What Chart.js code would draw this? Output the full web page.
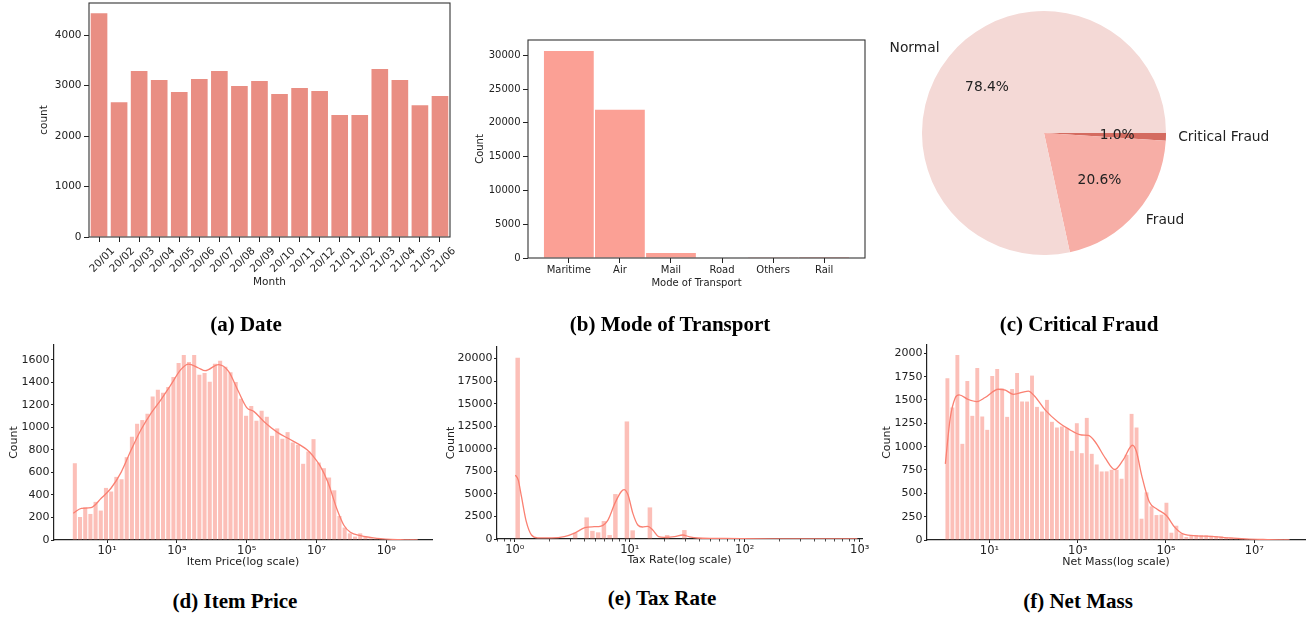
<!DOCTYPE html>
<html>
<head>
<meta charset="utf-8">
<script src="https://cdn.jsdelivr.net/npm/chart.js@4.4.0/dist/chart.umd.min.js"></script>
<style>
  body { margin: 0; background: #fff; }
  #page { position: relative; width: 1313px; height: 617px; overflow: hidden; background: #fff; }
  canvas { position: absolute; }
  .cap { position: absolute; width: 400px; text-align: center; font: bold 21px "Liberation Serif", serif; line-height: 24px; color: #000; }
</style>
</head>
<body>
<div id="page">
  <canvas id="date"></canvas>
  <canvas id="mode"></canvas>
  <canvas id="fraud"></canvas>
  <canvas id="price"></canvas>
  <canvas id="tax"></canvas>
  <canvas id="mass"></canvas>
  <div class="cap" style="left:46px;top:312px">(a) Date</div>
  <div class="cap" style="left:470px;top:312px">(b) Mode of Transport</div>
  <div class="cap" style="left:879px;top:312px">(c) Critical Fraud</div>
  <div class="cap" style="left:35px;top:589px">(d) Item Price</div>
  <div class="cap" style="left:462px;top:586px">(e) Tax Rate</div>
  <div class="cap" style="left:878px;top:589px">(f) Net Mass</div>
</div>
<script>
const ink = '#222';
const salmon = '#fa8072';
const histFill = 'rgba(250,128,114,0.5)';

// (a) Date
const dateLabels = ['20/01', '20/02', '20/03', '20/04', '20/05', '20/06', '20/07', '20/08', '20/09',
  '20/10', '20/11', '20/12', '21/01', '21/02', '21/03', '21/04', '21/05', '21/06'];
const dateCounts = [4430, 2670, 3285, 3110, 2870, 3130, 3285, 2990, 3090, 2830, 2950, 2890, 2415, 2415, 3325, 3110, 2610, 2790];
const dateTicks = [0, 1000, 2000, 3000, 4000];

// (b) Mode of Transport
const modeLabels = ['Maritime', 'Air', 'Mail', 'Road', 'Others', 'Rail'];
const modeCounts = [30640, 21950, 740, 60, 20, 8];
const modeTicks = [0, 5000, 10000, 15000, 20000, 25000, 30000];

// (c) Critical Fraud
const fraudLabels = ['Normal', 'Fraud', 'Critical Fraud'];
const fraudShares = [78.4, 20.6, 1.0];
const fraudColors = ['#f4d9d6', '#f7aea6', '#d46b60'];

// (d) Item Price - histogram bins are equal steps in log10
const priceBinStart = 0;
const priceBinStep = 0.1487;
const priceCounts = [681, 204, 290, 231, 338, 261, 462, 430, 560, 539,
  735, 916, 1031, 1064, 1120, 1274, 1333, 1307, 1357, 1446,
  1570, 1642, 1579, 1642, 1467, 1481, 1404, 1564, 1591, 1538,
  1488, 1401, 1253, 1102, 1188, 1058, 1147, 1093, 924, 990,
  898, 957, 865, 845, 676, 785, 895, 687, 637, 554,
  441, 213, 110, 59, 30, 59, 27, 15, 10, 7,
  5, 4, 3, 2, 2, 1];
const priceKdeLog = [0.03, 0.26, 0.54, 0.83, 1.11, 1.4, 1.69, 1.97, 2.26, 2.54, 2.83, 3.11, 3.33, 3.62, 3.81,
  4.19, 4.48, 4.76, 5.0, 5.21, 5.49, 5.88, 6.26, 6.73, 6.9, 7.1, 7.33, 7.59, 7.78, 7.97, 8.26, 8.73, 9.4, 9.9];
const priceKde = [237, 281, 287, 370, 459, 600, 800, 978, 1126, 1244, 1378, 1511, 1561, 1526, 1502,
  1556, 1496, 1319, 1175, 1139, 1052, 955, 889, 800, 745, 660, 510, 270, 133, 68, 38, 15, 3, 0];
const priceTicks = [1e1, 1e3, 1e5, 1e7, 1e9];
const priceTickLabels = ['10¹', '10³', '10⁵', '10⁷', '10⁹'];
const priceCountTicks = [0, 200, 400, 600, 800, 1000, 1200, 1400, 1600];

// (e) Tax Rate - only non-empty bins (centres in log10, bin width 0.05)
const taxBinLog = [0.025, 0.525, 0.625, 0.675, 0.725, 0.775, 0.825, 0.875, 0.975, 1.025, 1.175, 1.325, 1.475];
const taxCounts = [20100, 700, 2390, 900, 740, 1990, 440, 4980, 13030, 960, 3500, 440, 990];
const taxKdeLog = [0.005, 0.03, 0.058, 0.1, 0.145, 0.2, 0.32, 0.43, 0.52, 0.61, 0.69, 0.75, 0.81, 0.87, 0.925, 0.95,
  0.983, 1.027, 1.07, 1.11, 1.157, 1.2, 1.25, 1.3, 1.39, 1.46, 1.52, 1.59, 1.73, 1.97, 2.25, 2.98];
const taxKde = [7085, 6530, 4690, 1920, 443, 130, 120, 258, 650, 1255, 1365, 1440, 2100, 3950, 5240, 5480,
  4950, 2840, 1550, 1330, 1400, 996, 258, 190, 258, 443, 240, 110, 74, 37, 15, 0];
const taxTicks = [1e0, 1e1, 1e2, 1e3];
const taxTickLabels = ['10⁰', '10¹', '10²', '10³'];
const taxCountTicks = [0, 2500, 5000, 7500, 10000, 12500, 15000, 17500, 20000];

// (f) Net Mass
const massBinStart = -0.01;
const massBinStep = 0.1128;
const massCounts = [1733, 1420, 1982, 1030, 1704, 1330, 1843, 1323, 1180, 1757,
  1832, 1622, 1319, 1618, 1790, 1483, 1483, 1761, 1426, 1376,
  1501, 1266, 1205, 1216, 1198, 955, 1251, 930, 1308, 923,
  809, 734, 735, 752, 752, 656, 913, 1351, 1205, 228,
  510, 360, 267, 271, 399, 78, 153, 71, 32, 43,
  53, 52, 50, 45, 40, 38, 30, 25, 20, 15,
  12, 10, 8, 6, 5, 4, 3, 2, 1];
const massKdeLog = [0.0, 0.11, 0.22, 0.31, 0.52, 0.71, 0.9, 1.2, 1.36, 1.54, 1.88, 2.03, 2.26, 2.56, 2.79, 3.09,
  3.24, 3.39, 3.62, 3.84, 4.03, 4.24, 4.33, 4.45, 4.62, 4.8, 5.01, 5.2, 5.4, 5.7, 6.1, 6.44, 6.8, 7.3, 7.8];
const massKde = [816, 1305, 1519, 1554, 1505, 1483, 1526, 1615, 1605, 1561, 1595, 1537, 1394, 1262, 1190, 1125,
  1120, 1055, 880, 755, 859, 1015, 948, 690, 410, 330, 262, 135, 62, 45, 36, 22, 12, 5, 0];
const massTicks = [1e1, 1e3, 1e5, 1e7];
const massTickLabels = ['10¹', '10³', '10⁵', '10⁷'];
const massCountTicks = [0, 250, 500, 750, 1000, 1250, 1500, 1750, 2000];

Chart.defaults.font.family = '"DejaVu Sans", sans-serif';
Chart.defaults.color = ink;
Chart.defaults.animation = false;
Chart.defaults.events = [];
Chart.defaults.plugins.legend.display = false;
Chart.defaults.plugins.tooltip.enabled = false;

function setCanvas(id, box) {
  const c = document.getElementById(id);
  c.width = box.w;
  c.height = box.h;
  c.style.left = box.left + 'px';
  c.style.top = box.top + 'px';
  return c;
}

// padding and axis sizes that put the plot area where it is in the picture
function frame(box, area) {
  return {
    pad: { left: 0, top: area.top - box.top, right: box.left + box.w - area.right, bottom: 0 },
    yw: area.left - box.left,
    xh: box.top + box.h - area.bottom
  };
}

function yAxis(box, fr, o) {
  return {
    min: 0, max: o.max,
    afterBuildTicks: s => { s.ticks = o.ticks.map(v => ({ value: v })); },
    afterFit: s => { s.width = fr.yw; s.paddingTop = 0; s.paddingBottom = 0; },
    ticks: { callback: v => String(v), font: { size: o.size }, padding: o.pad, color: ink },
    grid: { drawOnChartArea: false, tickLength: o.tick, tickColor: ink, lineWidth: 1 },
    border: { display: o.border, color: ink, width: 1.2 },
    title: { display: true, text: o.title, color: ink, font: { size: o.size },
      padding: { top: o.titleAt - box.left - o.size * 0.6 } }
  };
}

function xTitle(box, text, size, at) {
  return { display: true, text: text, color: ink, font: { size: size },
    padding: { bottom: box.top + box.h - at - size * 0.6 } };
}

const boxFrame = {
  id: 'boxFrame',
  afterDraw(chart) {
    const { ctx, chartArea: a } = chart;
    ctx.save();
    ctx.strokeStyle = '#333';
    ctx.lineWidth = 1.1;
    ctx.strokeRect(a.left, a.top, a.right - a.left, a.bottom - a.top);
    ctx.restore();
  }
};

const minorTicks = {
  id: 'minorTicks',
  afterDraw(chart) {
    const s = chart.scales.x, ctx = chart.ctx;
    ctx.save();
    ctx.strokeStyle = ink;
    ctx.lineWidth = 0.8;
    for (let e = Math.floor(Math.log10(s.min)); e <= Math.ceil(Math.log10(s.max)); e++) {
      for (let m = 2; m < 10; m++) {
        const v = m * Math.pow(10, e);
        if (v < s.min || v > s.max) continue;
        const px = Math.round(s.getPixelForValue(v)) + 0.5;
        ctx.beginPath();
        ctx.moveTo(px, s.top);
        ctx.lineTo(px, s.top + 2.5);
        ctx.stroke();
      }
    }
    ctx.restore();
  }
};

const pieText = {
  id: 'pieText',
  afterDraw(chart) {
    const ctx = chart.ctx;
    const data = chart.data.datasets[0].data;
    const total = data.reduce((a, b) => a + b, 0);
    ctx.save();
    ctx.font = '13.8px "DejaVu Sans"';
    ctx.fillStyle = ink;
    ctx.textBaseline = 'middle';
    chart.getDatasetMeta(0).data.forEach((arc, i) => {
      const p = arc.getProps(['x', 'y', 'startAngle', 'endAngle', 'outerRadius'], true);
      const mid = (p.startAngle + p.endAngle) / 2;
      const c = Math.cos(mid), s = Math.sin(mid);
      ctx.textAlign = c > 0 ? 'left' : 'right';
      ctx.fillText(chart.data.labels[i], p.x + c * p.outerRadius * 1.1, p.y + s * p.outerRadius * 1.1);
      ctx.textAlign = 'center';
      ctx.fillText((data[i] / total * 100).toFixed(1) + '%', p.x + c * p.outerRadius * 0.6, p.y + s * p.outerRadius * 0.6);
    });
    ctx.restore();
  }
};

// (a)
const dateBox = { left: 0, top: 0, w: 460, h: 300 };
const dateFr = frame(dateBox, { left: 89, top: 3, right: 450, bottom: 237 });
new Chart(setCanvas('date', dateBox), {
  type: 'bar',
  data: {
    labels: dateLabels,
    datasets: [{ data: dateCounts, backgroundColor: '#e98e83', barPercentage: 0.83, categoryPercentage: 1 }]
  },
  options: {
    responsive: false,
    layout: { padding: dateFr.pad },
    scales: {
      x: {
        type: 'category', offset: true,
        afterFit: s => { s.height = dateFr.xh; s.paddingLeft = 0; s.paddingRight = 0; },
        ticks: { autoSkip: false, minRotation: 45, maxRotation: 45, labelOffset: 14, padding: 3, font: { size: 10.5 }, color: ink },
        grid: { offset: false, drawOnChartArea: false, tickLength: 5, tickColor: ink },
        border: { display: false },
        title: xTitle(dateBox, 'Month', 10.5, 282)
      },
      y: yAxis(dateBox, dateFr, { max: 4634, ticks: dateTicks, size: 10.5, pad: 2.5, tick: 5, border: false, title: 'count', titleAt: 44 })
    }
  },
  plugins: [boxFrame]
});

// (b)
const modeBox = { left: 460, top: 30, w: 420, h: 270 };
const modeFr = frame(modeBox, { left: 528, top: 40, right: 865, bottom: 258 });
new Chart(setCanvas('mode', modeBox), {
  type: 'bar',
  data: {
    datasets: [{ data: modeCounts.map((v, i) => ({ x: i, y: v })), backgroundColor: 'rgba(250,128,114,0.75)',
      barPercentage: 0.975, categoryPercentage: 1 }]
  },
  options: {
    responsive: false,
    layout: { padding: modeFr.pad },
    scales: {
      x: {
        type: 'linear', offset: false, min: -0.8, max: 5.8,
        afterBuildTicks: s => { s.ticks = modeLabels.map((_, i) => ({ value: i })); },
        afterFit: s => { s.height = modeFr.xh; s.paddingLeft = 0; s.paddingRight = 0; },
        ticks: { autoSkip: false, maxRotation: 0, callback: (v, i) => modeLabels[i], padding: 1.5, font: { size: 10 }, color: ink },
        grid: { offset: false, drawOnChartArea: false, tickLength: 5, tickColor: ink },
        border: { display: false },
        title: xTitle(modeBox, 'Mode of Transport', 10, 283.3)
      },
      y: yAxis(modeBox, modeFr, { max: 32265, ticks: modeTicks, size: 10, pad: 2.5, tick: 5, border: false, title: 'Count', titleAt: 480 })
    }
  },
  plugins: [boxFrame]
});

// (c)
const fraudBox = { left: 880, top: 0, w: 420, h: 300 };
new Chart(setCanvas('fraud', fraudBox), {
  type: 'pie',
  data: {
    labels: fraudLabels.slice().reverse(),
    datasets: [{ data: fraudShares.slice().reverse(), backgroundColor: fraudColors.slice().reverse(), borderWidth: 0 }]
  },
  options: {
    responsive: false,
    rotation: 90,
    layout: { padding: { left: 42, top: 11, right: 134, bottom: 45 } }
  },
  plugins: [pieText]
});

// (d) (e) (f)
function histChart(id, box, area, o) {
  const fr = frame(box, area);
  return new Chart(setCanvas(id, box), {
    type: 'bar',
    data: {
      datasets: [
        { type: 'line', data: o.kdeLog.map((l, i) => ({ x: Math.pow(10, l), y: o.kde[i] })), borderColor: salmon,
          borderWidth: 1.3, pointRadius: 0, cubicInterpolationMode: 'monotone', order: 0 },
        { type: 'bar', data: o.binLog.map((l, i) => ({ x: Math.pow(10, l), y: o.counts[i] })), backgroundColor: histFill,
          barPercentage: 0.78, categoryPercentage: 1, order: 1 }
      ]
    },
    options: {
      responsive: false,
      layout: { padding: fr.pad },
      scales: {
        x: {
          type: 'logarithmic', offset: false, min: Math.pow(10, o.range[0]), max: Math.pow(10, o.range[1]),
          afterBuildTicks: s => { s.ticks = o.ticks.map(v => ({ value: v })); },
          afterFit: s => { s.height = fr.xh; s.paddingLeft = 0; s.paddingRight = 0; },
          ticks: { autoSkip: false, maxRotation: 0, callback: (v, i) => o.tickLabels[i], padding: 1, font: { size: 11.5 }, color: ink },
          grid: { offset: false, drawOnChartArea: false, tickLength: 3, tickColor: ink },
          border: { display: true, color: ink, width: 1.2 },
          title: xTitle(box, o.xTitle, 11, o.xTitleAt)
        },
        y: yAxis(box, fr, { max: o.max, ticks: o.countTicks, size: 11, pad: 1.5, tick: 3, border: true, title: 'Count', titleAt: o.yTitleAt })
      }
    },
    plugins: o.plugins || []
  });
}

histChart('price', { left: 0, top: 335, w: 440, h: 245 }, { left: 54, top: 345, right: 432, bottom: 540 }, {
  binLog: priceCounts.map((_, i) => priceBinStart + (i + 0.5) * priceBinStep), counts: priceCounts,
  kdeLog: priceKdeLog, kde: priceKde, range: [-0.486, 10.31], ticks: priceTicks, tickLabels: priceTickLabels,
  countTicks: priceCountTicks, max: 1730, xTitle: 'Item Price(log scale)', xTitleAt: 562.3, yTitleAt: 14
});

histChart('tax', { left: 440, top: 335, w: 435, h: 245 }, { left: 497, top: 347, right: 862, bottom: 539 }, {
  binLog: taxBinLog, counts: taxCounts,
  kdeLog: taxKdeLog, kde: taxKde, range: [-0.141, 3.02], ticks: taxTicks, tickLabels: taxTickLabels,
  countTicks: taxCountTicks, max: 21284, xTitle: 'Tax Rate(log scale)', xTitleAt: 560, yTitleAt: 450.7,
  plugins: [minorTicks]
});

histChart('mass', { left: 875, top: 335, w: 438, h: 245 }, { left: 927, top: 345, right: 1305, bottom: 540 }, {
  binLog: massCounts.map((_, i) => massBinStart + (i + 0.5) * massBinStep), counts: massCounts,
  kdeLog: massKdeLog, kde: massKde, range: [-0.416, 8.15], ticks: massTicks, tickLabels: massTickLabels,
  countTicks: massCountTicks, max: 2089, xTitle: 'Net Mass(log scale)', xTitleAt: 562.3, yTitleAt: 886.7
});
</script>
</body>
</html>
